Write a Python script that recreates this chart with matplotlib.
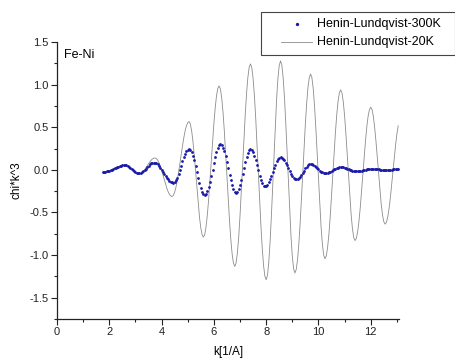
import numpy as np
import matplotlib
matplotlib.use("Agg")
import matplotlib.pyplot as plt
from matplotlib.ticker import MultipleLocator
from matplotlib.patches import Rectangle
from matplotlib.lines import Line2D

plt.rcParams['font.family'] = ['Liberation Sans', 'DejaVu Sans']

# k grid (1/A), sampled every 0.05 from 1.75 to 13.05
k = np.round(np.arange(1.75, 13.051, 0.05), 2)

chi_300K = [
    -0.025, -0.024, -0.022, -0.019, -0.015, -0.009, -0.003, 0.004, 0.011, 0.019,
    0.026, 0.033, 0.039, 0.045, 0.049, 0.052, 0.054, 0.055,
    0.053, 0.047, 0.039, 0.027, 0.014, 0.001, -0.012, -0.024, -0.032, -0.038, -0.040,
    -0.037, -0.030, -0.018, -0.004, 0.014, 0.031, 0.048, 0.063, 0.075, 0.082, 0.085,
    0.082, 0.075, 0.063, 0.046, 0.026, 0.004, -0.020, -0.045, -0.069, -0.091, -0.111,
    -0.128, -0.140, -0.147, -0.150,
    -0.143, -0.124, -0.092, -0.051, -0.004, 0.048, 0.099, 0.146, 0.187, 0.219, 0.238, 0.245,
    0.236, 0.209, 0.166, 0.111, 0.046, -0.024, -0.094, -0.159, -0.214, -0.257, -0.284, -0.293,
    -0.283, -0.253, -0.206, -0.145, -0.073, 0.004, 0.080, 0.152, 0.213, 0.260, 0.290, 0.300,
    0.290, 0.262, 0.217, 0.159, 0.090, 0.017, -0.056, -0.125, -0.183, -0.228, -0.256, -0.266,
    -0.256, -0.226, -0.178, -0.117, -0.048, 0.025, 0.094, 0.155, 0.203, 0.233, 0.243,
    0.234, 0.208, 0.167, 0.115, 0.055, -0.007, -0.067, -0.119, -0.160, -0.186, -0.195,
    -0.189, -0.172, -0.145, -0.109, -0.068, -0.024, 0.021, 0.062, 0.098, 0.125, 0.142, 0.148,
    0.144, 0.131, 0.110, 0.084, 0.052, 0.019, -0.014, -0.046, -0.072, -0.093, -0.106, -0.110,
    -0.106, -0.096, -0.079, -0.058, -0.034, -0.008, 0.016, 0.037, 0.054, 0.064, 0.068,
    0.066, 0.059, 0.049, 0.036, 0.022, 0.006, -0.008, -0.021, -0.031, -0.038, -0.040,
    -0.039, -0.035, -0.030, -0.022, -0.013, -0.004, 0.005, 0.014, 0.021, 0.027, 0.031, 0.032,
    0.031, 0.029, 0.025, 0.020, 0.014, 0.007, 0.001, -0.006, -0.011, -0.015, -0.017, -0.018,
    -0.017, -0.016, -0.013, -0.009, -0.005, -0.001, 0.003, 0.007, 0.010, 0.011, 0.012,
    0.012, 0.011, 0.010, 0.008, 0.007, 0.005, 0.004, 0.002, 0.001, 0.000, 0.000,
    0.000, 0.001, 0.002, 0.003, 0.004, 0.005, 0.006, 0.007, 0.008, 0.008,
]

chi_20K = [
    -0.030, -0.029, -0.027, -0.024, -0.020, -0.014, -0.008, -0.001, 0.006, 0.014,
    0.021, 0.028, 0.034, 0.040, 0.044, 0.047, 0.049, 0.050,
    0.048, 0.042, 0.034, 0.022, 0.009, -0.004, -0.017, -0.029, -0.037, -0.043, -0.045,
    -0.042, -0.033, -0.018, 0.001, 0.024, 0.048, 0.071, 0.094, 0.113, 0.128, 0.137, 0.140,
    0.133, 0.114, 0.083, 0.042, -0.006, -0.059, -0.114, -0.167, -0.215, -0.256, -0.287, -0.306, -0.313,
    -0.300, -0.263, -0.203, -0.123, -0.029, 0.073, 0.180, 0.282, 0.376, 0.456, 0.516, 0.553, 0.566,
    0.539, 0.458, 0.332, 0.170, -0.015, -0.208, -0.393, -0.555, -0.681, -0.762, -0.789,
    -0.759, -0.670, -0.529, -0.346, -0.132, 0.098, 0.328, 0.542, 0.725, 0.866, 0.955, 0.985,
    0.949, 0.843, 0.675, 0.456, 0.200, -0.074, -0.348, -0.604, -0.823, -0.991, -1.097, -1.133,
    -1.093, -0.974, -0.785, -0.539, -0.253, 0.055, 0.363, 0.649, 0.895, 1.084, 1.203, 1.243,
    1.200, 1.073, 0.872, 0.610, 0.304, -0.024, -0.351, -0.657, -0.919, -1.120, -1.247, -1.290,
    -1.238, -1.086, -0.847, -0.539, -0.189, 0.177, 0.527, 0.835, 1.074, 1.226, 1.278,
    1.228, 1.080, 0.849, 0.551, 0.211, -0.143, -0.483, -0.781, -1.013, -1.160, -1.210,
    -1.170, -1.054, -0.868, -0.626, -0.345, -0.043, 0.260, 0.541, 0.783, 0.969, 1.085, 1.125,
    1.081, 0.953, 0.751, 0.491, 0.195, -0.113, -0.409, -0.669, -0.871, -0.999, -1.043,
    -1.009, -0.910, -0.753, -0.548, -0.309, -0.053, 0.204, 0.443, 0.648, 0.805, 0.904, 0.938,
    0.902, 0.798, 0.633, 0.421, 0.180, -0.072, -0.313, -0.525, -0.690, -0.794, -0.830,
    -0.803, -0.725, -0.601, -0.439, -0.250, -0.048, 0.155, 0.344, 0.506, 0.630, 0.708, 0.735,
    0.707, 0.626, 0.498, 0.334, 0.147, -0.049, -0.236, -0.400, -0.528, -0.609, -0.637,
    -0.616, -0.554, -0.456, -0.328, -0.179, -0.019, 0.142, 0.291, 0.419, 0.517,
]

series_labels = ['Henin-Lundqvist-300K', 'Henin-Lundqvist-20K']
x_ticks = [0, 2, 4, 6, 8, 10, 12]
y_ticks = [-1.5, -1.0, -0.5, 0.0, 0.5, 1.0, 1.5]

W, H = 456, 364
fig = plt.figure(figsize=(W / 100, H / 100), dpi=100)
ax = fig.add_axes([57/W, 1 - 319/H, (399.5 - 57)/W, (319 - 42)/H])

dot_color = '#1a1aa8'
line_color = '#8c8c8c'
ax.plot(k, chi_20K, color=line_color, lw=0.6, zorder=2)
ax.plot(k, chi_300K, ls='none', marker='o', ms=2.0, mew=0, color=dot_color, zorder=3)

ax.set_xlim(0, 13.1)
ax.set_ylim(-1.75, 1.5)
ax.set_xticks(x_ticks)
ax.set_yticks(y_ticks)
ax.set_yticklabels([f"{v:.1f}" for v in y_ticks])
ax.xaxis.set_minor_locator(MultipleLocator(1))
ax.yaxis.set_minor_locator(MultipleLocator(0.25))
for s in ['top', 'right']:
    ax.spines[s].set_visible(False)
for s in ['left', 'bottom']:
    ax.spines[s].set_linewidth(0.9)
    ax.spines[s].set_color('#222222')
ax.tick_params(which='major', direction='out', length=4, width=0.8, labelsize=8,
               pad=2, colors='#222222')
ax.tick_params(which='minor', direction='out', length=2.5, width=0.8, colors='#222222')

ax.set_xlabel('k[1/A]', fontsize=8.5, labelpad=6)
ax.set_ylabel('chi*k^3', fontsize=8.5, labelpad=5)
ax.text(0.25, 1.35, 'Fe-Ni', fontsize=9, va='center', ha='left')

# legend box drawn in figure pixel coordinates
def fx(px):
    return px / W

def fy(py):
    return 1 - py / H

fig.patches.append(Rectangle((fx(261), fy(55)), fx(455) - fx(261), fy(12) - fy(55),
                             transform=fig.transFigure, fill=True, facecolor='white',
                             edgecolor='#444444', lw=0.8, zorder=5))
fig.lines.append(Line2D([fx(297)], [fy(24)], transform=fig.transFigure, ls='none',
                        marker='o', ms=2.4, mew=0, color=dot_color, zorder=6))
fig.lines.append(Line2D([fx(281), fx(312)], [fy(42), fy(42)], transform=fig.transFigure,
                        color=line_color, lw=0.6, zorder=6))
fig.text(fx(317), fy(24), series_labels[0], fontsize=9, va='center', ha='left', zorder=7)
fig.text(fx(317), fy(42), series_labels[1], fontsize=9, va='center', ha='left', zorder=7)

fig.savefig('out.png', dpi=100)
